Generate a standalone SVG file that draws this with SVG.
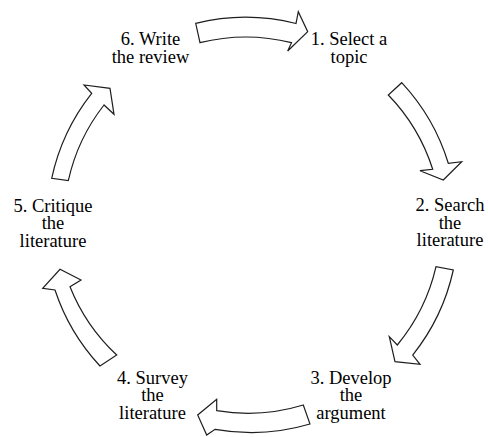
<svg xmlns="http://www.w3.org/2000/svg" width="488" height="437" viewBox="0 0 488 437">
<style>
.arrow{fill:#ffffff;stroke:#1e1e1e;stroke-width:1.2;stroke-linejoin:miter}
</style>
<rect width="488" height="437" fill="#ffffff"/>
<g id="connectors">
<path id="a61" class="arrow" d="M195.7,23.3 A207,207 0 0 1 296,23.5 L298.3,11.7 L307.7,31.7 L287.7,51 L291.5,42.7 A189,189 0 0 0 200,42.7 Z"/>
<path id="a12" class="arrow" d="M401.7,82.7 A207,207 0 0 1 448.3,163.3 L461.7,161.7 L443.3,180 L420,170.7 L432.7,169.3 A189,189 0 0 0 388.3,95 Z"/>
<path id="a23" class="arrow" d="M453.3,270 A207,207 0 0 1 412.7,355 L420,364.3 L395,361.7 L389.3,336.7 L397.3,345 A189,189 0 0 0 436,266.7 Z"/>
<path id="a34" class="arrow" d="M310,424 A207,207 0 0 1 215,429.3 L206.7,435 L197.7,415 L216.7,399.3 L216.7,410.7 A189,189 0 0 0 303.3,405 Z"/>
<path id="a45" class="arrow" d="M100,366 A207,207 0 0 1 55,290 L42.7,288.3 L60,269.3 L81,280 L70,286.7 A189,189 0 0 0 116.7,355 Z"/>
<path id="a56" class="arrow" d="M51.7,178.3 A207,207 0 0 1 91.7,93.3 L84,85 L110,88.3 L114,114.3 L104,105 A189,189 0 0 0 68.3,180.7 Z"/>
</g>
<g font-family="Liberation Serif, Times New Roman, DejaVu Serif, serif" font-size="18.5" fill="#000" text-anchor="middle">
<g id="node1"><text x="349" y="45">1. Select a</text><text x="349" y="62.6">topic</text></g>
<g id="node2"><text x="450" y="211">2. Search</text><text x="450" y="228.7">the</text><text x="450" y="246.4">literature</text></g>
<g id="node3"><text x="351" y="383.5">3. Develop</text><text x="351" y="401.2">the</text><text x="351" y="418.9">argument</text></g>
<g id="node4"><text x="152.5" y="383.5">4. Survey</text><text x="152.5" y="401.2">the</text><text x="152.5" y="418.9">literature</text></g>
<g id="node5"><text x="53" y="211.5">5. Critique</text><text x="53" y="229.1">the</text><text x="53" y="246.7">literature</text></g>
<g id="node6"><text x="150.5" y="45">6. Write</text><text x="150.5" y="62.6">the review</text></g>
</g>
</svg>
